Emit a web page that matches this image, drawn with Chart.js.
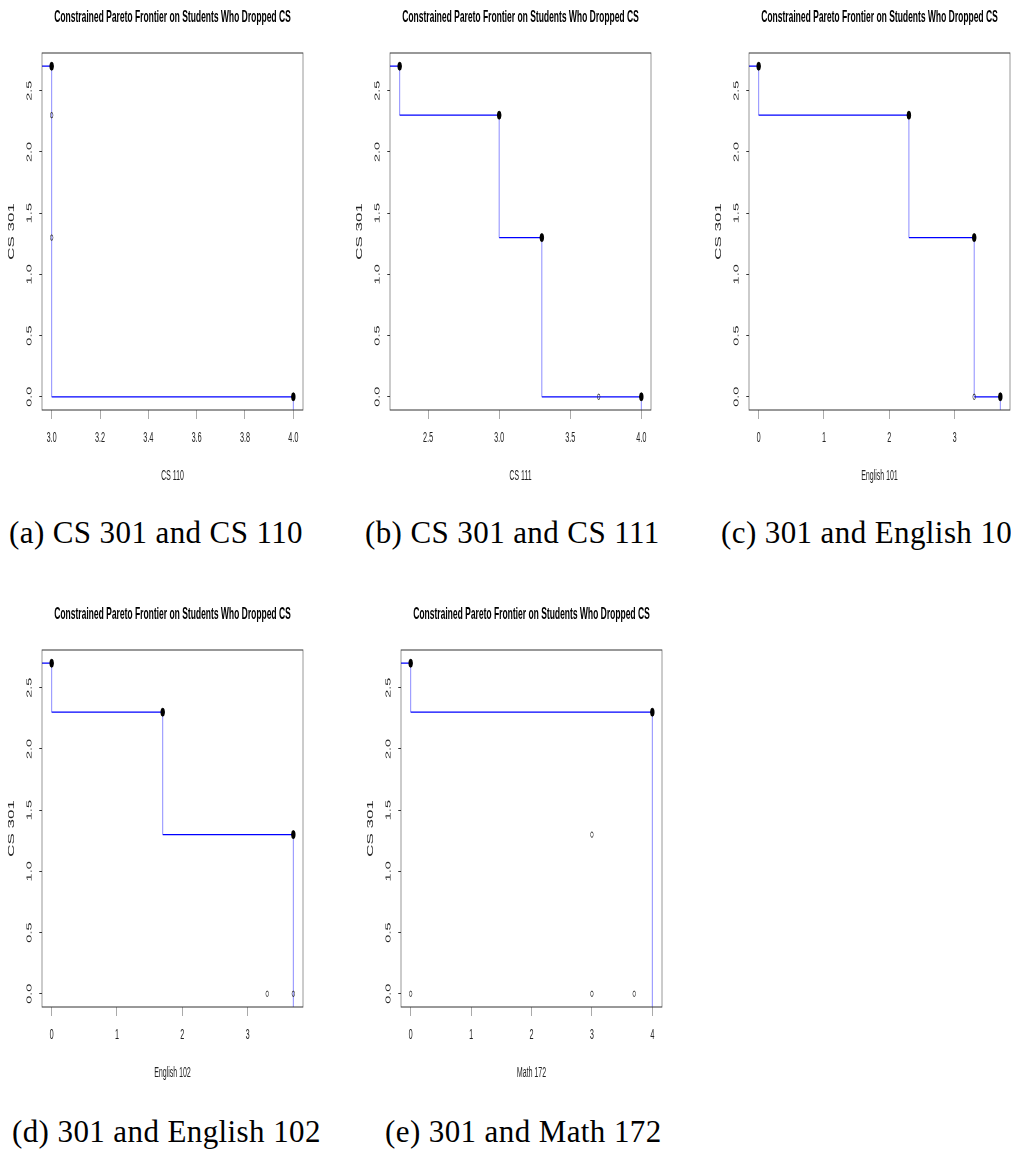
<!DOCTYPE html>
<html>
<head>
<meta charset="utf-8">
<script src="https://cdn.jsdelivr.net/npm/chart.js@4.4.1/dist/chart.umd.min.js"></script>
<style>
  body { margin: 0; width: 1011px; height: 1153px; overflow: hidden; background: #fff; position: relative; }
  .panel { position: absolute; width: 680px; height: 500px; transform: scaleX(0.5); transform-origin: 0 0; }
  .cap { position: absolute; font-family: "Liberation Serif", "Times New Roman", serif; font-size: 31px; letter-spacing: 0.4px; line-height: 30px; white-space: nowrap; color: #000; }
</style>
</head>
<body>
<div class="panel" style="left:0px;top:0px"><canvas id="chartA" width="680" height="500"></canvas></div>
<div class="panel" style="left:348px;top:0px"><canvas id="chartB" width="680" height="500"></canvas></div>
<div class="panel" style="left:707px;top:0px"><canvas id="chartC" width="680" height="500"></canvas></div>
<div class="panel" style="left:0px;top:597px"><canvas id="chartD" width="680" height="500"></canvas></div>
<div class="panel" style="left:359px;top:597px"><canvas id="chartE" width="680" height="500"></canvas></div>

<div class="cap" style="left:9px;top:518px">(a) CS 301 and CS 110</div>
<div class="cap" style="left:365px;top:518px">(b) CS 301 and CS 111</div>
<div class="cap" style="left:721px;top:518px">(c) 301 and English 101</div>
<div class="cap" style="left:12px;top:1117px">(d) 301 and English 102</div>
<div class="cap" style="left:385px;top:1117px">(e) 301 and Math 172</div>

<script>
const titleText = "Constrained Pareto Frontier on Students Who Dropped CS";
const yLabel = "CS 301";
const yTicks = [0, 0.5, 1, 1.5, 2, 2.5];
const yTickLabels = ["0.0", "0.5", "1.0", "1.5", "2.0", "2.5"];

// (a) CS 110
const aFrontX = [3.0, 4.0];
const aFrontY = [2.7, 0.0];
const aOtherX = [3.0, 3.0];
const aOtherY = [2.3, 1.3];
const aTicks = [3.0, 3.2, 3.4, 3.6, 3.8, 4.0];
const aTickLabels = ["3.0", "3.2", "3.4", "3.6", "3.8", "4.0"];

// (b) CS 111
const bFrontX = [2.3, 3.0, 3.3, 4.0];
const bFrontY = [2.7, 2.3, 1.3, 0.0];
const bOtherX = [3.7];
const bOtherY = [0.0];
const bTicks = [2.5, 3.0, 3.5, 4.0];
const bTickLabels = ["2.5", "3.0", "3.5", "4.0"];

// (c) English 101
const cFrontX = [0.0, 2.3, 3.3, 3.7];
const cFrontY = [2.7, 2.3, 1.3, 0.0];
const cOtherX = [3.3];
const cOtherY = [0.0];
const cTicks = [0, 1, 2, 3];
const cTickLabels = ["0", "1", "2", "3"];

// (d) English 102
const dFrontX = [0.0, 1.7, 3.7];
const dFrontY = [2.7, 2.3, 1.3];
const dOtherX = [3.3, 3.7];
const dOtherY = [0.0, 0.0];
const dTicks = [0, 1, 2, 3];
const dTickLabels = ["0", "1", "2", "3"];

// (e) Math 172
const eFrontX = [0.0, 4.0];
const eFrontY = [2.7, 2.3];
const eOtherX = [3.0, 0.0, 3.0, 3.7];
const eOtherY = [1.3, 0.0, 0.0, 0.0];
const eTicks = [0, 1, 2, 3, 4];
const eTickLabels = ["0", "1", "2", "3", "4"];

Chart.defaults.font.family = '"Liberation Sans", Arial, sans-serif';
Chart.defaults.color = "#222";

// R style axis range: data range widened by 4% each side
function rRange(vals) {
  const lo = Math.min(...vals), hi = Math.max(...vals);
  const d = (hi - lo) * 0.04;
  return [lo - d, hi + d];
}

// box round the plot and the rotated y labels, like base R
const rFrame = {
  id: "rFrame",
  afterDatasetsDraw(chart) {
    const { ctx, chartArea: a, scales: { y } } = chart;
    ctx.save();
    ctx.strokeStyle = "#333";
    ctx.lineWidth = 1;
    ctx.strokeRect(a.left, a.top, a.right - a.left, a.bottom - a.top);
    ctx.fillStyle = "#222";
    ctx.font = '14.5px "Liberation Sans", Arial, sans-serif';
    ctx.textAlign = "center";
    ctx.textBaseline = "middle";
    yTicks.forEach((v, i) => {
      ctx.save();
      ctx.translate(y.right - 25, y.getPixelForValue(v));
      ctx.rotate(-Math.PI / 2);
      ctx.fillText(yTickLabels[i], 0, 0);
      ctx.restore();
    });
    ctx.restore();
  },
};

// drop first, then run right: same path as type="s" in R
function stepPath(frontX, frontY, xMin, yMin) {
  const pts = [{ x: xMin - 1, y: frontY[0] }];
  frontX.forEach((x, i) => {
    pts.push({ x: x, y: frontY[i] });
    const nextY = i + 1 < frontY.length ? frontY[i + 1] : yMin - 1;
    pts.push({ x: x, y: nextY });
  });
  return pts;
}

const isDrop = (c) => c.p0.parsed.x === c.p1.parsed.x;

function makeChart(id, xLabel, frontX, frontY, otherX, otherY, xTicks, xTickLabels) {
  const xr = rRange(frontX.concat(otherX));
  const yr = rRange(frontY.concat(otherY));
  const front = frontX.map((x, i) => ({ x: x, y: frontY[i] }));
  const other = otherX.map((x, i) => ({ x: x, y: otherY[i] }));

  new Chart(document.getElementById(id), {
    type: "scatter",
    data: {
      datasets: [
        {
          data: front,
          pointRadius: 4,
          pointBackgroundColor: "#000",
          pointBorderColor: "#000",
          pointBorderWidth: 1,
          order: 0,
        },
        {
          data: other,
          pointRadius: 2.7,
          pointBackgroundColor: "rgba(0,0,0,0)",
          pointBorderColor: "#222",
          pointBorderWidth: 1,
          order: 1,
        },
        {
          type: "line",
          data: stepPath(frontX, frontY, xr[0], yr[0]),
          borderColor: "#0000ff",
          borderWidth: 1.2,
          segment: {
            borderColor: (c) => (isDrop(c) ? "#8c8cff" : "#0000ff"),
            borderWidth: (c) => (isDrop(c) ? 2 : 1.2),
          },
          pointRadius: 0,
          fill: false,
          order: 2,
        },
      ],
    },
    options: {
      responsive: false,
      animation: false,
      layout: { padding: { left: 0, right: 74, top: 0, bottom: 0 } },
      plugins: {
        legend: { display: false },
        tooltip: { enabled: false },
        title: {
          display: true,
          text: titleText,
          fullSize: false,
          color: "#000",
          font: { size: 17, weight: "bold", lineHeight: 1.2 },
          padding: { top: 6.8, bottom: 25.8 },
        },
      },
      scales: {
        x: {
          type: "linear",
          min: xr[0],
          max: xr[1],
          afterBuildTicks: (s) => { s.ticks = xTicks.map((v) => ({ value: v })); },
          afterFit: (s) => { s.height = 90; s.paddingLeft = 0; s.paddingRight = 0; },
          border: { display: false },
          grid: { drawOnChartArea: false, tickLength: 9, color: "#555", tickColor: "#555" },
          ticks: {
            autoSkip: false,
            maxRotation: 0,
            padding: 10,
            font: { size: 14.5 },
            callback: (v, i) => xTickLabels[i],
          },
          title: { display: true, text: xLabel, font: { size: 14 }, padding: { top: 0, bottom: 15.6 } },
        },
        y: {
          type: "linear",
          min: yr[0],
          max: yr[1],
          afterBuildTicks: (s) => { s.ticks = yTicks.map((v) => ({ value: v })); },
          afterFit: (s) => { s.width = 84; s.paddingTop = 0; s.paddingBottom = 0; },
          border: { display: false },
          grid: { drawOnChartArea: false, tickLength: 5.5, color: "#333", tickColor: "#333" },
          ticks: { display: false },
          title: { display: true, text: yLabel, font: { size: 17 }, padding: { top: 12.8, bottom: 0 } },
        },
      },
    },
    plugins: [rFrame],
  });
}

makeChart("chartA", "CS 110", aFrontX, aFrontY, aOtherX, aOtherY, aTicks, aTickLabels);
makeChart("chartB", "CS 111", bFrontX, bFrontY, bOtherX, bOtherY, bTicks, bTickLabels);
makeChart("chartC", "English 101", cFrontX, cFrontY, cOtherX, cOtherY, cTicks, cTickLabels);
makeChart("chartD", "English 102", dFrontX, dFrontY, dOtherX, dOtherY, dTicks, dTickLabels);
makeChart("chartE", "Math 172", eFrontX, eFrontY, eOtherX, eOtherY, eTicks, eTickLabels);
</script>
</body>
</html>
